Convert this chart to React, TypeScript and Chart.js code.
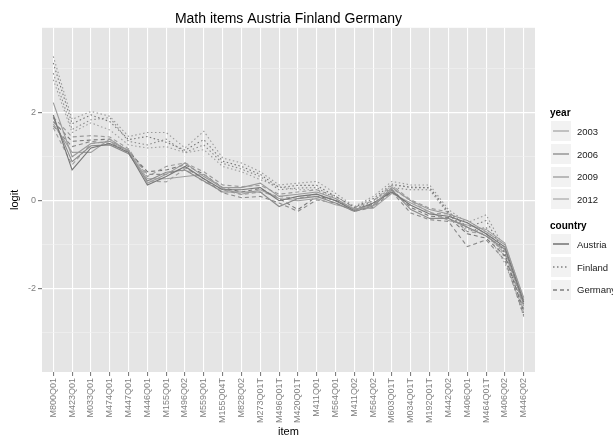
import React, { useEffect, useRef } from "react";
import { Chart, registerables } from "chart.js";

Chart.register(...registerables);

const items = ["M800Q01","M423Q01","M033Q01","M474Q01","M447Q01","M446Q01","M155Q01","M496Q02","M559Q01","M155Q04T","M828Q02","M273Q01T","M496Q01T","M420Q01T","M411Q01","M564Q01","M411Q02","M564Q02","M603Q01T","M034Q01T","M192Q01T","M442Q02","M406Q01","M464Q01T","M406Q02","M446Q02"];

const years = ["2003", "2006", "2009", "2012"];
const countries = ["Austria", "Finland", "Germany"];
const yTicks = [-3, -2, -1, 0, 1, 2, 3];

const finland2003 = [3.28, 1.85, 2.03, 1.92, 1.46, 1.55, 1.55, 1.2, 1.58, 0.97, 0.86, 0.66, 0.36, 0.4, 0.44, 0.17, -0.13, 0.1, 0.44, 0.36, 0.36, -0.2, -0.5, -0.32, -1.1, -2.4];
const finland2006 = [3.13, 1.75, 1.95, 1.8, 1.39, 1.46, 1.33, 1.15, 1.39, 0.9, 0.78, 0.6, 0.3, 0.35, 0.35, 0.1, -0.15, 0.05, 0.38, 0.3, 0.3, -0.25, -0.6, -0.45, -1.2, -2.55];
const finland2009 = [2.9, 1.62, 1.84, 1.89, 1.35, 1.27, 1.4, 1.1, 1.27, 0.85, 0.72, 0.55, 0.25, 0.29, 0.3, 0.05, -0.2, 0.0, 0.3, 0.25, 0.25, -0.3, -0.7, -0.6, -1.3, -2.63];
const finland2012 = [2.75, 1.55, 1.77, 1.61, 1.27, 1.2, 1.23, 1.09, 1.16, 0.78, 0.66, 0.48, 0.32, 0.25, 0.25, 0.0, -0.18, -0.05, 0.35, 0.32, 0.29, -0.28, -0.65, -0.7, -1.42, -2.5];
const austria2003 = [2.23, 1.0, 1.3, 1.35, 1.15, 0.4, 0.6, 0.86, 0.55, 0.3, 0.3, 0.4, 0.1, 0.15, 0.2, 0.05, -0.2, -0.1, 0.3, 0.0, -0.2, -0.3, -0.45, -0.7, -1.0, -2.2];
const austria2006 = [1.95, 0.7, 1.2, 1.3, 1.1, 0.36, 0.55, 0.78, 0.5, 0.25, 0.25, 0.3, 0.0, 0.1, 0.15, 0.0, -0.22, -0.05, 0.2, -0.1, -0.3, -0.35, -0.5, -0.75, -1.05, -2.3];
const austria2009 = [1.89, 0.89, 1.25, 1.27, 1.07, 0.45, 0.65, 0.7, 0.45, 0.2, 0.2, 0.2, -0.13, 0.05, 0.1, -0.05, -0.24, -0.12, 0.25, -0.2, -0.4, -0.4, -0.6, -0.8, -1.1, -2.35];
const austria2012 = [1.75, 1.1, 1.1, 1.4, 1.12, 0.5, 0.5, 0.55, 0.6, 0.28, 0.15, 0.25, 0.05, 0.0, 0.05, -0.09, -0.18, -0.17, 0.17, -0.05, -0.25, -0.45, -0.55, -0.65, -0.96, -2.25];
const germany2003 = [1.9, 1.45, 1.48, 1.45, 1.18, 0.55, 0.78, 0.86, 0.66, 0.36, 0.32, 0.35, 0.15, 0.2, 0.25, 0.1, -0.15, 0.0, 0.35, 0.02, -0.17, -0.25, -0.6, -0.8, -1.15, -2.4];
const germany2006 = [1.8, 1.35, 1.38, 1.4, 1.12, 0.66, 0.7, 0.82, 0.6, 0.3, 0.2, 0.28, 0.05, -0.2, 0.1, 0.02, -0.2, -0.08, 0.25, -0.15, -0.35, -0.38, -0.75, -0.85, -1.25, -2.5];
const germany2009 = [1.7, 1.23, 1.35, 1.3, 1.15, 0.6, 0.6, 0.75, 0.5, 0.18, 0.07, 0.1, -0.05, -0.24, 0.02, -0.05, -0.24, -0.15, 0.2, -0.28, -0.43, -0.47, -1.04, -0.89, -1.35, -2.6];
const germany2012 = [1.66, 0.82, 1.3, 1.35, 1.08, 0.45, 0.43, 0.72, 0.43, 0.25, 0.14, 0.2, 0.1, 0.05, 0.15, 0.0, -0.17, -0.1, 0.28, 0.0, -0.28, -0.3, -0.7, -0.75, -1.2, -2.45];

const seriesByCountry: Record<string, number[][]> = {
  Austria: [austria2003, austria2006, austria2009, austria2012],
  Finland: [finland2003, finland2006, finland2009, finland2012],
  Germany: [germany2003, germany2006, germany2009, germany2012],
};

const yearColors = ["#9a9a9a", "#767676", "#8a8a8a", "#a0a0a0"];
const countryDash: Record<string, number[]> = {
  Austria: [],
  Finland: [1.5, 2.5],
  Germany: [4, 3],
};

const FONT = "'Liberation Sans', Arial, Helvetica, sans-serif";

const panelBg = {
  id: "panelBg",
  beforeDraw(chart: any) {
    const { ctx, chartArea } = chart;
    ctx.save();
    ctx.fillStyle = "#e5e5e5";
    ctx.fillRect(chartArea.left, chartArea.top, chartArea.right - chartArea.left, chartArea.bottom - chartArea.top);
    ctx.restore();
  },
};

function LegendKey({ color, dash }: { color: string; dash: number[] }) {
  return (
    <div style={{ width: 22, height: 22, background: "#f2f2f2", border: "1px solid #ffffff", boxSizing: "border-box", position: "relative" }}>
      <svg width={20} height={20} style={{ position: "absolute", left: 0, top: 0 }}>
        <line x1={2} y1={10} x2={18} y2={10} stroke={color} strokeWidth={1.1} strokeDasharray={dash.length ? dash.join(",") : undefined} />
      </svg>
    </div>
  );
}

export default function App() {
  const canvasRef = useRef<HTMLCanvasElement | null>(null);

  useEffect(() => {
    if (!canvasRef.current) return;
    const datasets: any[] = [];
    countries.forEach((c) => {
      seriesByCountry[c].forEach((vals, yi) => {
        datasets.push({
          label: `${c} ${years[yi]}`,
          data: vals.map((v, i) => ({ x: i, y: v })),
          borderColor: yearColors[yi],
          borderWidth: 1.1,
          borderDash: countryDash[c],
          pointRadius: 0,
          fill: false,
          tension: 0,
        });
      });
    });

    const chart = new Chart(canvasRef.current, {
      type: "line",
      data: { datasets },
      plugins: [panelBg],
      options: {
        animation: false,
        responsive: false,
        layout: { padding: { left: 0, right: 78, top: 0, bottom: 0 } },
        plugins: {
          legend: { display: false },
          tooltip: { enabled: false },
          title: {
            display: true,
            text: "Math items Austria Finland Germany",
            fullSize: false,
            color: "#000000",
            font: { family: FONT, size: 14, weight: "normal" },
            padding: { top: 11, bottom: 0 },
          },
        },
        scales: {
          x: {
            type: "linear",
            min: -0.6,
            max: items.length - 1 + 0.6,
            afterBuildTicks: (s: any) => {
              s.ticks = items.map((_, i) => ({ value: i }));
            },
            afterFit: (s: any) => {
              s.height = 70;
            },
            ticks: {
              autoSkip: false,
              minRotation: 90,
              maxRotation: 90,
              padding: 2,
              color: "#7f7f7f",
              font: { family: FONT, size: 9 },
              callback: (v: any) => items[Math.round(Number(v))] ?? "",
            },
            grid: {
              color: "#ffffff",
              lineWidth: 1.1,
              tickColor: "#7f7f7f",
              tickLength: 4,
            },
            border: { display: false },
            title: {
              display: true,
              text: "item",
              color: "#000000",
              font: { family: FONT, size: 11 },
              padding: { top: 0, bottom: 3 },
            },
          },
          y: {
            type: "linear",
            min: -3.89,
            max: 3.93,
            afterBuildTicks: (s: any) => {
              s.ticks = yTicks.map((v) => ({ value: v }));
            },
            afterFit: (s: any) => {
              s.width = 42;
            },
            ticks: {
              padding: 2,
              color: "#7f7f7f",
              font: { family: FONT, size: 9 },
              callback: (v: any) => (Math.abs(Number(v)) % 2 === 0 ? String(v) : ""),
            },
            grid: {
              color: (ctx: any) => (Math.abs(ctx.tick.value) % 2 === 0 ? "#ffffff" : "#f2f2f2"),
              lineWidth: (ctx: any) => (Math.abs(ctx.tick.value) % 2 === 0 ? 1.2 : 0.6),
              tickColor: (ctx: any) => (Math.abs(ctx.tick.value) % 2 === 0 ? "#7f7f7f" : "rgba(0,0,0,0)"),
              tickLength: 4,
            },
            border: { display: false },
            title: {
              display: true,
              text: "logit",
              color: "#000000",
              font: { family: FONT, size: 11 },
              padding: { top: 8, bottom: 0 },
            },
          },
        },
      } as any,
    });
    return () => chart.destroy();
  }, []);

  const legendText: React.CSSProperties = { fontFamily: FONT, fontSize: 9.5, color: "#1a1a1a", marginLeft: 5, whiteSpace: "nowrap" };
  const legendTitle: React.CSSProperties = { fontFamily: FONT, fontSize: 10, fontWeight: "bold", color: "#000", height: 14, lineHeight: "14px" };

  return (
    <div style={{ position: "absolute", left: 0, top: 0, width: 613, height: 442, overflow: "hidden", background: "#ffffff" }}>
      <canvas ref={canvasRef} width={613} height={442} style={{ display: "block" }} />
      <div style={{ position: "absolute", left: 550, top: 106 }}>
        <div style={legendTitle}>year</div>
        {years.map((y, i) => (
          <div key={y} style={{ display: "flex", alignItems: "center", height: 22.7 }}>
            <LegendKey color={yearColors[i]} dash={[]} />
            <span style={legendText}>{y}</span>
          </div>
        ))}
      </div>
      <div style={{ position: "absolute", left: 550, top: 219 }}>
        <div style={legendTitle}>country</div>
        {countries.map((c) => (
          <div key={c} style={{ display: "flex", alignItems: "center", height: 22.7 }}>
            <LegendKey color="#444444" dash={countryDash[c]} />
            <span style={legendText}>{c}</span>
          </div>
        ))}
      </div>
    </div>
  );
}
